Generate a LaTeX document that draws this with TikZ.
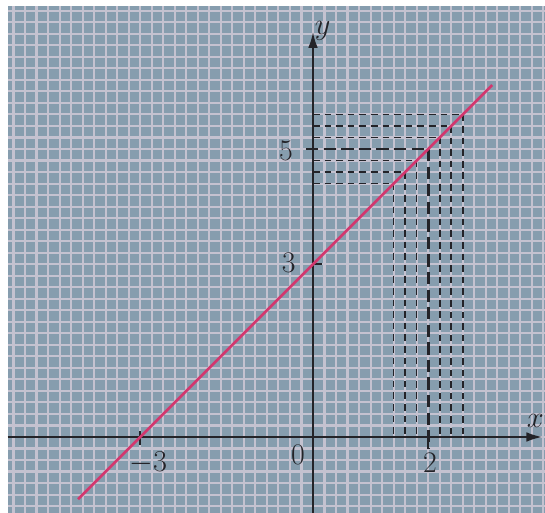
\documentclass[tikz,border=0pt]{standalone}
\usetikzlibrary{arrows.meta}
\definecolor{paper}{RGB}{134,157,174}
\definecolor{gridc}{RGB}{196,194,208}
\definecolor{graphc}{RGB}{210,55,110}
\definecolor{axisc}{RGB}{35,35,40}
\tikzset{
  gridline/.style={draw=gridc, line width=1.2pt},
  axisline/.style={draw=axisc, line width=1.1pt, -{Latex[length=9pt,width=5.5pt]}},
  tickline/.style={draw=axisc, line width=1.1pt},
  graphline/.style={draw=graphc, line width=1.5pt},
  thindash/.style={draw=axisc, line width=0.9pt, dash pattern=on 3.8pt off 2.8pt},
  thickdash/.style={draw=axisc, line width=1.5pt, dash pattern=on 7pt off 3pt},
  lbl/.style={font=\fontsize{17}{20}\selectfont, text=axisc, inner sep=0pt}
}
\begin{document}
\begin{tikzpicture}[x=1.152cm,y=1.152cm]
\useasboundingbox (-5.434,-1.319) rectangle (4.028,7.587);
\begin{scope}
\clip (-5.434,-1.319) rectangle (4.028,7.587);
\fill[paper] (-5.434,-1.319) rectangle (4.028,7.587);
\draw[gridline, step=0.2] (-5.6,-1.4) grid (4.2,7.8);
\fill[white] (-5.434,-1.319) rectangle (-5.295,7.587);
\fill[white] (-5.434,7.48) rectangle (4.028,7.587);

% dashed guide lines
\foreach \i/\xv in {1/1.4,2/1.6,3/1.8,5/2.2,6/2.4,7/2.6}{
  \pgfmathsetmacro{\yv}{\xv+3}
  \coordinate (p\i) at (\xv,\yv);
  \coordinate (h\i) at (0,\yv);
  \coordinate (v\i) at (\xv,0);
  \draw[thindash] (h\i) -- (p\i);
  \draw[thindash] (p\i) -- (v\i);
}
\coordinate (p4) at (2,5);
\coordinate (h4) at (-0.12,5);
\coordinate (v4) at (2,-0.2);
\draw[thickdash] (h4) -- (p4);
\draw[thickdash] (p4) -- (v4);

% axes
\coordinate (xs) at (-5.3,0);
\coordinate (xe) at (3.98,0);
\coordinate (ys) at (0,-1.32);
\coordinate (ye) at (0,7.03);
\draw[axisline] (xs) -- (xe);
\draw[axisline] (ys) -- (ye);

% ticks
\coordinate (t1a) at (-3,0.1);
\coordinate (t1b) at (-3,-0.14);
\draw[tickline] (t1a) -- (t1b);
\coordinate (t2a) at (0,3);
\coordinate (t2b) at (0.15,3);
\draw[tickline] (t2a) -- (t2b);
\coordinate (t3a) at (2,0);
\coordinate (t3b) at (2,-0.2);
\draw[tickline] (t3a) -- (t3b);

% graph y = x + 3
\coordinate (ga) at (-4.08,-1.08);
\coordinate (gb) at (3.11,6.11);
\draw[graphline] (ga) -- (gb);

% labels
\node[lbl] (ly) at (0.17,7.05) {$y$};
\node[lbl] (lx) at (3.86,0.27) {$x$};
\node[lbl] (l0) at (-0.26,-0.31) {0};
\node[lbl] (lm3) at (-2.86,-0.45) {$-3$};
\node[lbl] (l2) at (2.03,-0.45) {2};
\node[lbl] (l5) at (-0.47,4.97) {5};
\node[lbl] (l3) at (-0.42,3.02) {3};
\end{scope}
\end{tikzpicture}
\end{document}
